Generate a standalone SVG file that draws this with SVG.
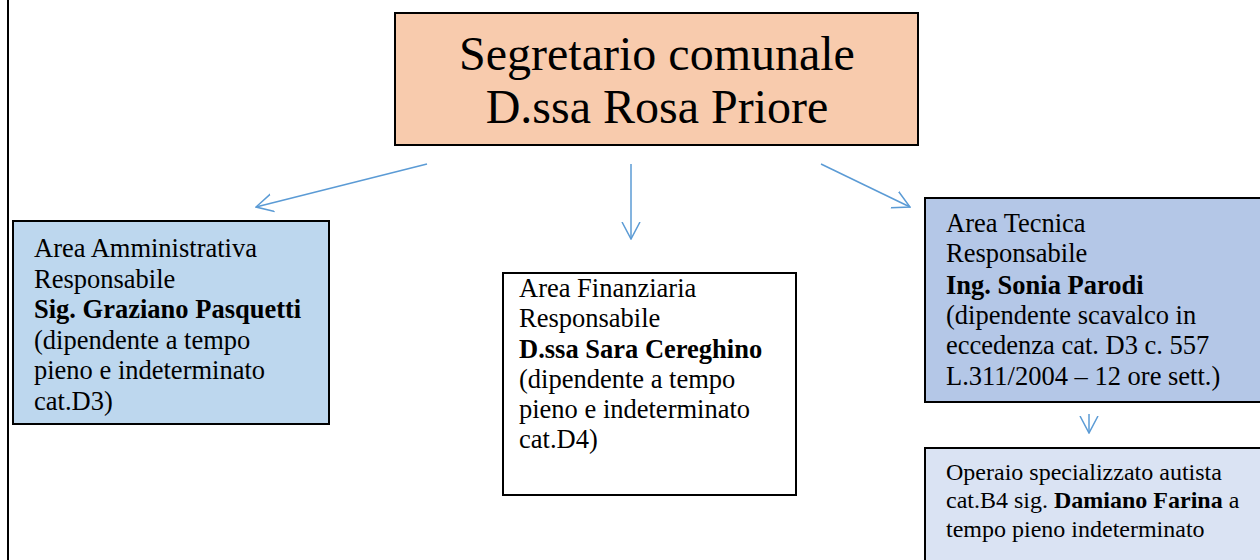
<svg xmlns="http://www.w3.org/2000/svg" width="1260" height="560" viewBox="0 0 1260 560">
<style>
.t{font-family:"Liberation Serif","Times New Roman",serif;font-size:26.5px;fill:#000}
.s{font-family:"Liberation Serif","Times New Roman",serif;font-size:24px;fill:#000}
.h{font-family:"Liberation Serif","Times New Roman",serif;font-size:48px;fill:#000}
.b{font-weight:bold}
.box{stroke:#000;stroke-width:2}
.c{stroke:#5B9BD5;stroke-width:1.5;fill:none}
</style>
<defs>
<marker id="arr" viewBox="0 0 18 20" refX="17" refY="10" markerWidth="18" markerHeight="20" markerUnits="userSpaceOnUse" orient="auto">
<path d="M0,1 L17,10 L0,19" fill="none" stroke="#5B9BD5" stroke-width="1.5"/>
</marker>
</defs>
<rect width="1260" height="560" fill="#fff"/>
<line x1="8" y1="0" x2="8" y2="560" stroke="#000" stroke-width="2"/>
<g id="segretario">
<rect class="box" x="395" y="13" width="523" height="132" fill="#F8CBAD"/>
<text class="h" x="657" y="70" text-anchor="middle">Segretario comunale</text>
<text class="h" x="657" y="123" text-anchor="middle">D.ssa Rosa Priore</text>
</g>
<g id="amministrativa">
<rect class="box" x="13" y="221" width="316" height="203" fill="#BDD7EE"/>
<text class="t" x="34" y="257">Area Amministrativa</text>
<text class="t" x="34" y="288">Responsabile</text>
<text class="t b" x="34" y="318">Sig. Graziano Pasquetti</text>
<text class="t" x="34" y="349">(dipendente a tempo</text>
<text class="t" x="34" y="379">pieno e indeterminato</text>
<text class="t" x="34" y="410">cat.D3)</text>
</g>
<g id="finanziaria">
<rect class="box" x="503" y="273" width="293" height="222" fill="#fff"/>
<text class="t" x="519" y="297">Area Finanziaria</text>
<text class="t" x="519" y="327">Responsabile</text>
<text class="t b" x="519" y="358">D.ssa Sara Cereghino</text>
<text class="t" x="519" y="388">(dipendente a tempo</text>
<text class="t" x="519" y="418">pieno e indeterminato</text>
<text class="t" x="519" y="448">cat.D4)</text>
</g>
<g id="tecnica">
<rect class="box" x="925" y="198" width="400" height="204" fill="#B4C7E7"/>
<text class="t" x="946" y="232">Area Tecnica</text>
<text class="t" x="946" y="262">Responsabile</text>
<text class="t b" x="946" y="294">Ing. Sonia Parodi</text>
<text class="t" x="946" y="324">(dipendente scavalco in</text>
<text class="t" x="946" y="354">eccedenza cat. D3 c. 557</text>
<text class="t" x="946" y="385">L.311/2004 – 12 ore sett.)</text>
</g>
<g id="operaio">
<rect class="box" x="925" y="448" width="400" height="200" fill="#DAE3F3"/>
<text class="s" x="946" y="480">Operaio specializzato autista</text>
<text class="s" x="946" y="508">cat.B4 sig. <tspan class="b">Damiano Farina</tspan> a</text>
<text class="s" x="946" y="537">tempo pieno indeterminato</text>
</g>
<g id="connectors">
<line class="c" x1="427" y1="164" x2="256" y2="207" marker-end="url(#arr)"/>
<line class="c" x1="631" y1="164" x2="631" y2="239" marker-end="url(#arr)"/>
<line class="c" x1="821" y1="164" x2="910" y2="207" marker-end="url(#arr)"/>
<line class="c" x1="1089" y1="414" x2="1089" y2="433" marker-end="url(#arr)"/>
</g>
</svg>
